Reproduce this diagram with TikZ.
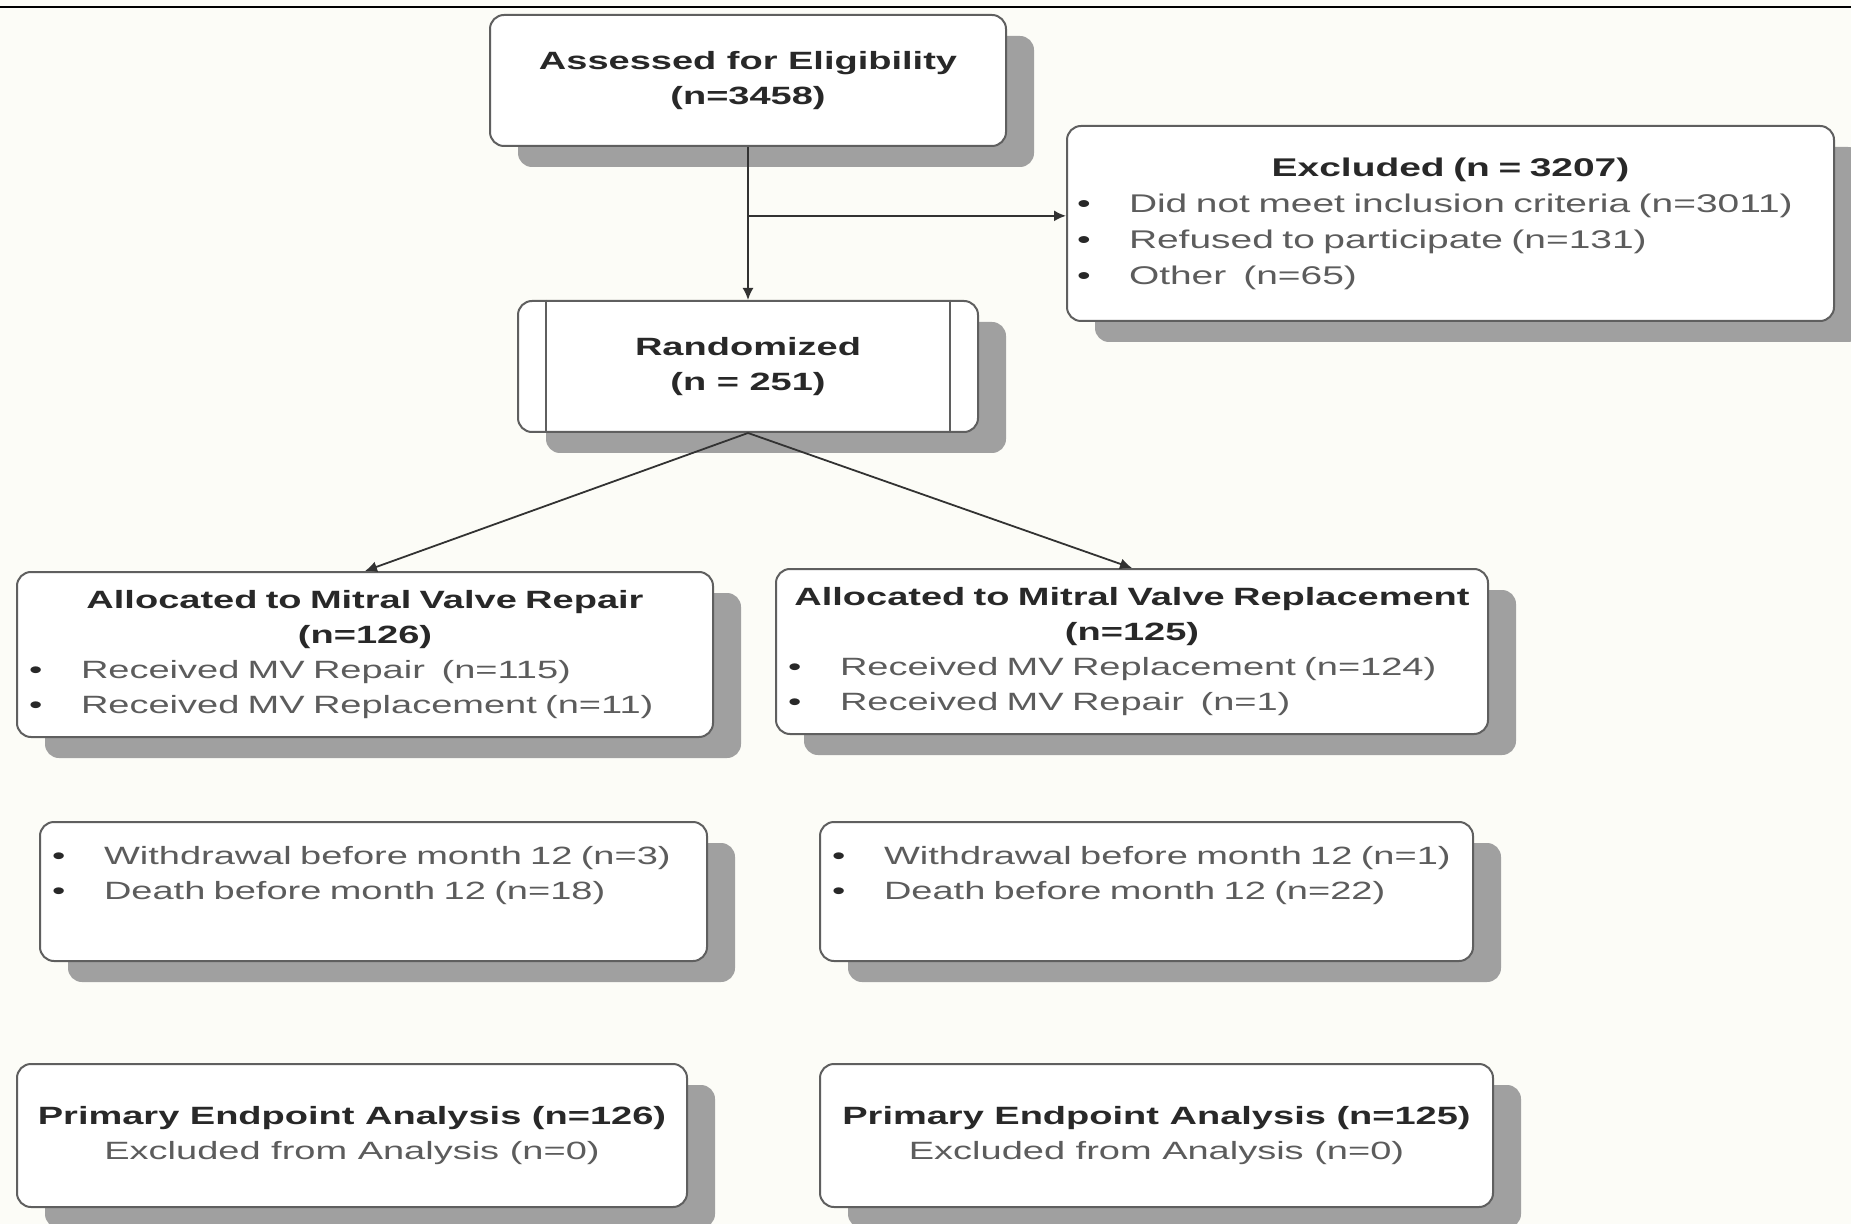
\documentclass[tikz,border=0pt]{standalone}
\usepackage{fontspec}
\setmainfont{Liberation Sans}[FakeStretch=1.52]
\usepackage{xcolor}
\usepackage{tikz}
\usetikzlibrary{arrows.meta,positioning,calc,shadows}
\definecolor{bgcol}{RGB}{252,252,247}
\definecolor{boxline}{RGB}{95,95,95}
\definecolor{linecol}{RGB}{50,50,50}
\definecolor{shadowgray}{RGB}{160,160,160}
\definecolor{ttlcol}{RGB}{40,40,40}
\definecolor{txtcol}{RGB}{92,92,92}
\newcommand{\ttl}[1]{\makebox[\hsize]{\bfseries\color{ttlcol}#1}}
\newcommand{\bul}[1]{\makebox[26pt][l]{\color{ttlcol}\textbullet}#1}

\begin{document}
\begin{tikzpicture}[
  x=0.5pt, y=-0.5pt,
  every node/.style={font=\fontsize{12.5}{17.5}\selectfont},
  box/.style ={rectangle,draw=boxline,line width=1pt,rounded corners=7pt,fill=white,
               drop shadow={shadow xshift=14pt,shadow yshift=-10.5pt,fill=shadowgray,opacity=1},
               inner xsep=6pt,inner ysep=3pt},
  head/.style={box,align=center,text=ttlcol,font=\fontsize{12.5}{17.5}\selectfont\bfseries},
  list/.style={box,align=left,text=txtcol},
  res/.style ={box,align=center,text=txtcol},
  edge/.style={draw=linecol,line width=0.9pt,-{Latex[length=6pt,width=5.5pt]}}
]
\useasboundingbox (0,0) rectangle (1851,1224);
\fill[bgcol] (0,0) rectangle (1851,1224);
\draw[line width=1pt] (0,6.7) -- (1851,6.7);

\node[head, minimum width=258pt, minimum height=65.5pt] (elig) at (748,80.5) {Assessed for Eligibility\\(n=3458)};
\node[head, minimum width=230pt, minimum height=65.5pt, below=76.5pt of elig] (rand) {Randomized\\(n = 251)};
\node[list, minimum width=383.5pt, minimum height=97.5pt, text width=373.5pt, inner xsep=5pt,
      font=\fontsize{12.8}{18}\selectfont, below right=-11pt and 29.5pt of elig] (excl)
  {\ttl{Excluded (n = 3207)}\\
   \bul{Did not meet inclusion criteria (n=3011)}\\
   \bul{Refused to participate (n=131)}\\
   \bul{Other~ (n=65)}};
\node[list, minimum width=348pt, minimum height=82.5pt, text width=336pt,
      below left=69pt and -98.5pt of rand] (allocL)
  {\ttl{Allocated to Mitral Valve Repair}\\
   \ttl{(n=126)}\\
   \bul{Received MV Repair~ (n=115)}\\
   \bul{Received MV Replacement (n=11)}};
\node[list, minimum width=356pt, minimum height=82.5pt, text width=344pt,
      below right=67.5pt and -102pt of rand] (allocR)
  {\ttl{Allocated to Mitral Valve Replacement}\\
   \ttl{(n=125)}\\
   \bul{Received MV Replacement (n=124)}\\
   \bul{Received MV Repair~ (n=1)}};
\node[list, minimum width=333.5pt, minimum height=69.5pt, text width=321.5pt,
      below=41.5pt of allocL, xshift=4.25pt] (wdL)
  {\bul{Withdrawal before month 12 (n=3)}\\
   \bul{Death before month 12 (n=18)}\\[1pt]\mbox{}};
\node[list, minimum width=326.5pt, minimum height=69.5pt, text width=314.5pt,
      below=43pt of allocR, xshift=7.25pt] (wdR)
  {\bul{Withdrawal before month 12 (n=1)}\\
   \bul{Death before month 12 (n=22)}\\[1pt]\mbox{}};
\node[res, minimum width=335pt, minimum height=71.5pt, below=50.5pt of wdL, xshift=-10.75pt] (primL)
  {{\bfseries\color{ttlcol}Primary Endpoint Analysis (n=126)}\\Excluded from Analysis (n=0)};
\node[res, minimum width=336.5pt, minimum height=71.5pt, below=50.5pt of wdR, xshift=5pt] (primR)
  {{\bfseries\color{ttlcol}Primary Endpoint Analysis (n=125)}\\Excluded from Analysis (n=0)};

\draw[boxline,line width=1pt] ([xshift=14.5pt]rand.north west) -- ([xshift=14.5pt]rand.south west);
\draw[boxline,line width=1pt] ([xshift=-14.5pt]rand.north east) -- ([xshift=-14.5pt]rand.south east);

\coordinate (split) at ($(elig.south)!0.45!(rand.north)$);
\draw[edge] (elig) -- (rand);
\draw[edge] (split) -- (split -| excl.west);
\draw[edge] (rand.south) -- (allocL.north);
\draw[edge] (rand.south) -- (allocR.north);
\end{tikzpicture}
\end{document}
